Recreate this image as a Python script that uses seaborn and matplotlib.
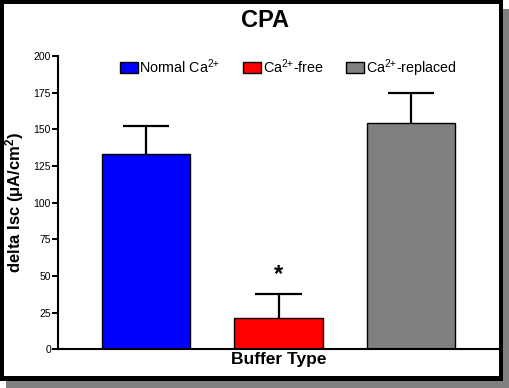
import matplotlib
matplotlib.use("Agg")
import matplotlib.pyplot as plt
import seaborn as sns
import pandas as pd
from matplotlib.patches import Rectangle

# --- data ---
groups = ["Normal Ca$^{2{+}}$", "Ca$^{2{+}}$-free", "Ca$^{2{+}}$-replaced"]
means = [133.0, 21.2, 154.2]
sem = [19.5, 16.8, 20.5]
colors = ["#0000ff", "#ff0000", "#808080"]
star_group = 1  # significance marker on Ca-free

df = pd.DataFrame({"group": groups, "delta": means})

sns.set_style("ticks")
plt.rcParams["font.family"] = ["Liberation Sans", "DejaVu Sans"]
plt.rcParams["mathtext.fontset"] = "custom"
plt.rcParams["mathtext.rm"] = "Liberation Sans"
plt.rcParams["mathtext.it"] = "Liberation Sans:italic"
plt.rcParams["mathtext.bf"] = "Liberation Sans:bold"
for k in ["text.color", "axes.labelcolor", "xtick.color", "ytick.color"]:
    plt.rcParams[k] = "black"

W, H = 510, 388
fig = plt.figure(figsize=(W / 100, H / 100), dpi=100)
fig.patch.set_facecolor("white")

# --- shadowed black frame round the whole picture ---
fig.patches.append(Rectangle((6 / W, 0), 503 / W, 379 / H, transform=fig.transFigure,
                             facecolor="#808080", edgecolor="none", zorder=-3))
fig.patches.append(Rectangle((0, 7 / H), 503 / W, 381 / H, transform=fig.transFigure,
                             facecolor="black", edgecolor="none", zorder=-2))
fig.patches.append(Rectangle((4 / W, 12 / H), 495 / W, 372 / H, transform=fig.transFigure,
                             facecolor="white", edgecolor="none", zorder=-1))

ax = fig.add_axes([58 / W, (H - 349.3) / H, 441 / W, 293.3 / H])
ax.patch.set_alpha(0)

sns.barplot(data=df, x="group", y="delta", hue="group", palette=colors, saturation=1,
            width=0.67, edgecolor="black", linewidth=1, legend=False, ax=ax)

# upper-only error bars
cap = 0.175
for i, (m, e) in enumerate(zip(means, sem)):
    ax.plot([i, i], [m, m + e], color="black", lw=1.6, solid_capstyle="butt", zorder=3)
    ax.plot([i - cap, i + cap], [m + e, m + e], color="black", lw=1.6,
            solid_capstyle="butt", zorder=3)

ax.text(star_group, means[star_group] + sem[star_group] + 5, "*", ha="center", va="bottom",
        fontsize=17, fontweight="bold")

ax.set_xlim(-0.665, 2.665)
ax.set_ylim(0, 200)
ax.set_yticks(range(0, 201, 25))
ax.set_xticks([])
ax.tick_params(axis="y", labelsize=7.5, length=4, width=1.4, pad=1, color="black")
for s in ["top", "right"]:
    ax.spines[s].set_visible(False)
for s in ["left", "bottom"]:
    ax.spines[s].set_linewidth(1.5)
    ax.spines[s].set_color("black")

ax.set_xlabel("Buffer Type", fontsize=12.5, fontweight="bold", labelpad=2)
ax.set_ylabel("delta Isc (\u03bcA/cm$\\mathbf{^2}$)", fontsize=12, fontweight="bold")
ax.yaxis.label.set_va("center")
ax.yaxis.set_label_coords(-0.098, 0.5)

fig.text(264.5 / W, (H - 20.5) / H, "CPA", ha="center", va="center",
         fontsize=17, fontweight="bold")

ax.legend(ax.patches[:3], groups, loc="center left", bbox_to_anchor=(0.14, 0.96),
          ncol=3, frameon=False, fontsize=10.3, handlelength=1.26, handleheight=0.75,
          handletextpad=0.1, columnspacing=1.6, borderpad=0, borderaxespad=0)

fig.savefig("out.png", dpi=100)
